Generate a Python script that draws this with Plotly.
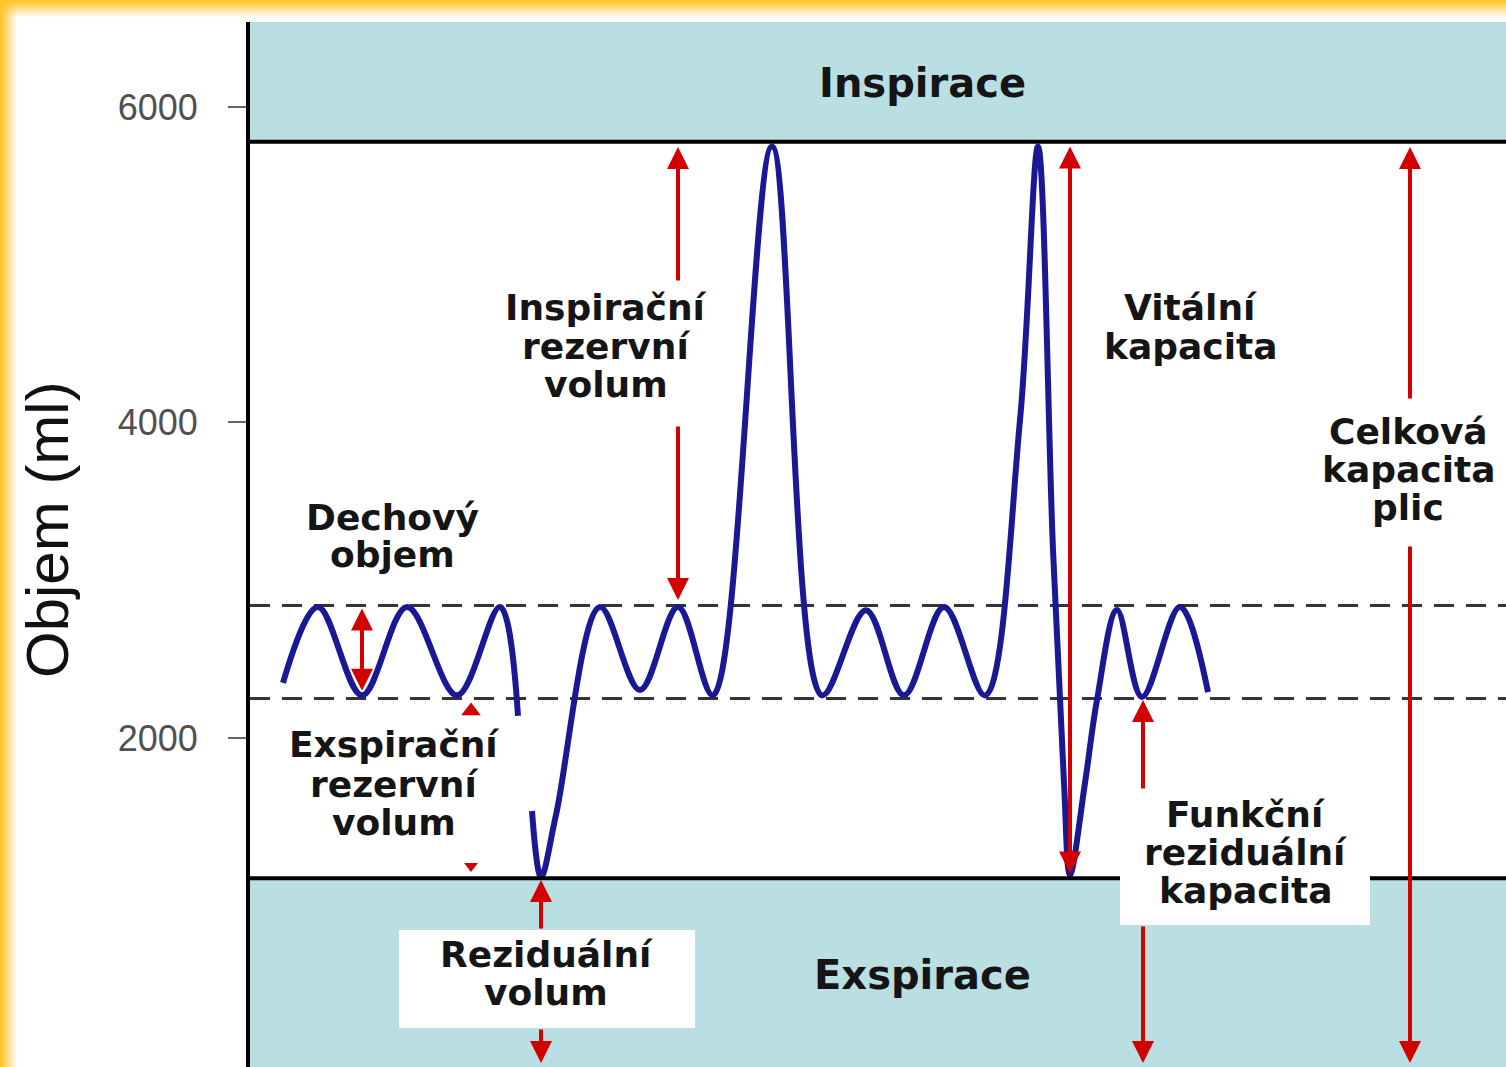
import plotly.graph_objects as go

# ---------------- data (time in arbitrary units, volume in ml) ----------------
TLC = 5780          # celkova kapacita plic (top line)
RV = 1110           # rezidualni volum (bottom line)
TIDAL_TOP = 2840    # upper dashed line
FRC = 2250          # lower dashed line

# spirogram, first segment (klidne dychani)
t1 = [33, 68, 112, 157, 207, 250, 268]
v1 = [2349, 2830, 2270, 2830, 2270, 2830, 2140]

# spirogram, second segment
t2 = [282, 291, 306, 350, 390, 428, 463, 522, 572, 616, 654, 694, 735,
      770, 788, 803, 814, 820, 835, 847, 867, 892, 930, 958]
v2 = [1537, 1119, 1512, 2830, 2304, 2830, 2270, 5750, 2270, 2810, 2270,
      2830, 2270, 4016, 5750, 3192, 1715, 1132, 1715, 2241, 2811, 2260, 2830, 2290]

yticks = [2000, 4000, 6000]
ytick_labels = ["2000", "4000", "6000"]

Y_RANGE = [-86, 6539]
X_RANGE = [0, 1256]

RED = "#D30000"
BLUE = "#191996"
TEAL = "#B9DFE2"
TXT = "#151515"
FONT = "DejaVu Sans"

fig = go.Figure()

fig.add_trace(go.Scatter(x=t1, y=v1, mode="lines",
                         line=dict(color=BLUE, width=6, shape="spline", smoothing=1.0),
                         hoverinfo="skip", showlegend=False))
fig.add_trace(go.Scatter(x=t2, y=v2, mode="lines",
                         line=dict(color=BLUE, width=6, shape="spline", smoothing=1.0),
                         hoverinfo="skip", showlegend=False))

# small ERV arrow heads (triangles)
fig.add_trace(go.Scatter(x=[221], y=[2171], mode="markers",
                         marker=dict(symbol="triangle-up", size=17, color=RED),
                         hoverinfo="skip", showlegend=False))
fig.add_trace(go.Scatter(x=[221], y=[1189], mode="markers",
                         marker=dict(symbol="triangle-down", size=12, color=RED),
                         hoverinfo="skip", showlegend=False))

shapes = []
# teal bands
shapes.append(dict(type="rect", xref="x", yref="y", x0=X_RANGE[0], x1=X_RANGE[1],
                   y0=TLC, y1=Y_RANGE[1], fillcolor=TEAL, line_width=0, layer="below"))
shapes.append(dict(type="rect", xref="x", yref="y", x0=X_RANGE[0] - 7, x1=X_RANGE[1],
                   y0=Y_RANGE[0], y1=RV, fillcolor=TEAL, line_width=0, layer="below"))
# dashed lines
for yv in (TIDAL_TOP, FRC):
    shapes.append(dict(type="line", xref="x", yref="y", x0=X_RANGE[0], x1=X_RANGE[1],
                       y0=yv, y1=yv, line=dict(color="#333333", width=3, dash="20px,12px"),
                       layer="below"))
# black lines
for yv in (TLC, RV):
    shapes.append(dict(type="line", xref="x", yref="y", x0=X_RANGE[0], x1=X_RANGE[1],
                       y0=yv, y1=yv, line=dict(color="black", width=4), layer="above"))
# white label boxes
shapes.append(dict(type="rect", xref="x", yref="y", x0=149, x1=445, y0=162, y1=783,
                   fillcolor="white", line_width=0, layer="above"))
shapes.append(dict(type="rect", xref="x", yref="y", x0=870, x1=1120, y0=815, y1=1639,
                   fillcolor="white", line_width=0, layer="above"))

# yellow frame (top and left), faded strips
W, H = 1506, 1067
ML, MT = 250, 22
PW, PH = W - ML, H - MT
for i in range(9):
    op = max(0.0, 1.0 - i * 0.12)
    shapes.append(dict(type="rect", xref="paper", yref="paper",
                       x0=-ML / PW, x1=1.0,
                       y0=(H - (2 * i + 2)) / PH, y1=(H - 2 * i) / PH,
                       fillcolor="#FFC62A", opacity=op, line_width=0, layer="below"))
    shapes.append(dict(type="rect", xref="paper", yref="paper",
                       x0=(2 * i - ML) / PW, x1=(2 * i + 2 - ML) / PW,
                       y0=-0.01, y1=H / PH,
                       fillcolor="#FFC62A", opacity=op, line_width=0, layer="below"))

annotations = []


def arrow(x, y_head, y_tail, double=False):
    a = dict(x=x, y=y_head, ax=x, ay=y_tail, xref="x", yref="y", axref="x", ayref="y",
             text="", showarrow=True, arrowhead=2, arrowsize=1.1, arrowwidth=4,
             arrowcolor=RED, standoff=0)
    if double:
        a.update(arrowside="end+start", startarrowhead=2, startarrowsize=1.1, startstandoff=0)
    annotations.append(a)


# Dechovy objem
arrow(112, 2820, 2290, double=True)
# Rezidualni volum
arrow(291, 1100, 783)
arrow(291, -60, 162)
# Inspiracni rezervni volum
arrow(428, 5746, 4891)
arrow(428, 2875, 3984)
# Vitalni kapacita
arrow(820, 5750, 1132, double=True)
# Celkova kapacita plic
arrow(1160, 5746, 4143)
arrow(1160, -60, 3224)
# Funkcni rezidualni kapacita
arrow(893, 2241, 1670)
arrow(893, -60, 815)


def label(x, y, text, size=36):
    annotations.append(dict(x=x, y=y, xref="x", yref="y", text="<b>" + text + "</b>",
                            showarrow=False, xanchor="center", yanchor="middle",
                            font=dict(family=FONT, size=size, color=TXT)))


label(672, 6152, "Inspirace", 40)
label(672, 498, "Exspirace", 40)
label(142, 3395, "Dechový")
label(142, 3160, "objem")
label(144, 1956, "Exspirační")
label(144, 1702, "rezervní")
label(144, 1461, "volum")
label(296, 625, "Reziduální")
label(296, 384, "volum")
label(356, 4726, "Inspirační")
label(356, 4479, "rezervní")
label(356, 4238, "volum")
label(940, 4726, "Vitální")
label(940, 4479, "kapacita")
label(1158, 3940, "Celková")
label(1158, 3699, "kapacita")
label(1158, 3458, "plic")
label(995, 1512, "Funkční")
label(995, 1271, "reziduální")
label(995, 1030, "kapacita")

# axis title
annotations.append(dict(x=(47 - ML) / PW, y=(H - 530) / PH, xref="paper", yref="paper",
                        text="Objem (ml)", textangle=-90, showarrow=False,
                        xanchor="center", yanchor="middle",
                        font=dict(family="Liberation Sans", size=60, color="#111111")))

fig.update_layout(
    width=W, height=H,
    margin=dict(l=ML, r=0, t=MT, b=0, pad=0),
    paper_bgcolor="white", plot_bgcolor="white",
    showlegend=False,
    shapes=shapes, annotations=annotations,
    xaxis=dict(range=X_RANGE, visible=False, fixedrange=True),
    yaxis=dict(range=Y_RANGE, tickvals=yticks, ticktext=ytick_labels,
               showgrid=False, zeroline=False, showline=True, linecolor="black",
               linewidth=4, ticks="outside", ticklen=18, tickwidth=2, tickcolor="#666666",
               ticklabelstandoff=23,
               tickfont=dict(family="Liberation Sans", size=36, color="#505050"),
               fixedrange=True),
)

fig.write_html("out.html", config={"displayModeBar": False},
               post_script="document.body.style.margin='0px';document.body.style.overflow='hidden';")
